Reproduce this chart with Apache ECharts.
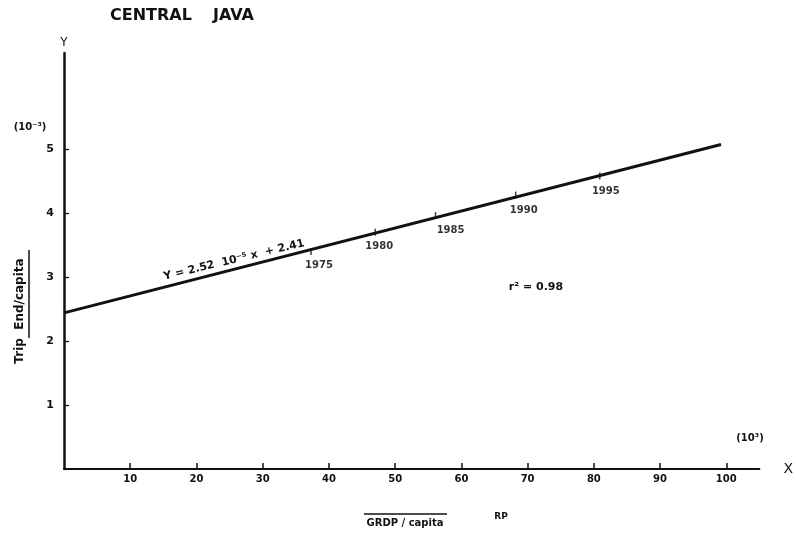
<!DOCTYPE html>
<html>
<head>
<meta charset="utf-8">
<script src="https://cdn.jsdelivr.net/npm/echarts@6/dist/echarts.min.js"></script>
<style>
  html, body { margin: 0; padding: 0; background: #fff; }
  #chart { width: 796px; height: 537px; }
</style>
</head>
<body>
<div id="chart"></div>
<script>
// Trip ends per capita against GRDP per capita, Central Java
const xTicks = [10, 20, 30, 40, 50, 60, 70, 80, 90, 100];
const yTicks = [1, 2, 3, 4, 5];

// fitted trend line (ends of the drawn segment)
const trendGrdp = [0, 99.2];
const trendTrip = [2.44, 5.07];

// yearly positions marked along the line
const years = ['1975', '1980', '1985', '1990', '1995'];
const yearGrdp = [37.3, 47.0, 56.1, 68.2, 80.9];
const yearTrip = [3.40, 3.70, 3.96, 4.28, 4.58];

// label offsets for the year marks (style only)
const yearLabelOffsets = [[8, 14], [4, 14], [15, 15], [8, 15], [6, 16]];

const FONT = 'DejaVu Sans';
const INK = '#111';

const chart = echarts.init(document.getElementById('chart'), null, { renderer: 'canvas' });

const option = {
  backgroundColor: '#fff',
  animation: false,
  grid: { left: 64, right: 34, top: 53, bottom: 68, containLabel: false },
  xAxis: {
    type: 'value',
    min: 0,
    max: 105,
    interval: 10,
    name: 'X',
    nameLocation: 'end',
    nameGap: 24,
    nameTextStyle: { fontFamily: FONT, fontSize: 14, color: INK, verticalAlign: 'middle', padding: [0, 0, 6, 0] },
    splitLine: { show: false },
    axisLine: { onZero: false, lineStyle: { color: INK, width: 2 } },
    axisTick: { inside: true, length: 6, customValues: xTicks, lineStyle: { color: INK, width: 1.5 } },
    axisLabel: {
      customValues: xTicks,
      margin: 5,
      fontFamily: FONT, fontSize: 10, fontWeight: 'bold', color: INK
    }
  },
  yAxis: {
    type: 'value',
    min: 0,
    max: 6.5,
    interval: 1,
    name: 'Y',
    nameLocation: 'end',
    nameGap: 4,
    nameTextStyle: { fontFamily: FONT, fontSize: 12, color: INK, align: 'center' },
    splitLine: { show: false },
    axisLine: { onZero: false, lineStyle: { color: INK, width: 2.5 } },
    axisTick: { inside: true, length: 5, customValues: yTicks, lineStyle: { color: INK, width: 1.2 } },
    axisLabel: {
      customValues: yTicks,
      margin: 10,
      fontFamily: FONT, fontSize: 11, fontWeight: 'bold', color: INK
    }
  },
  series: [
    {
      type: 'line',
      data: trendGrdp.map((x, i) => [x, trendTrip[i]]),
      symbol: 'none',
      lineStyle: { color: INK, width: 3 },
      z: 3
    },
    {
      type: 'scatter',
      data: yearGrdp.map((x, i) => ({
        value: [x, yearTrip[i]],
        name: years[i],
        label: { offset: yearLabelOffsets[i] }
      })),
      symbol: 'rect',
      symbolSize: [1.5, 7],
      itemStyle: { color: INK },
      label: {
        show: true,
        position: 'inside',
        formatter: p => p.name,
        fontFamily: FONT, fontSize: 10, fontWeight: 'bold', color: '#000',
        textBorderWidth: 0
      },
      z: 4
    }
  ],
  graphic: [
    {
      type: 'text', left: 110, top: 8,
      style: { text: 'CENTRAL', font: 'bold 16px "DejaVu Sans"', fill: INK }
    },
    {
      type: 'text', left: 213, top: 8,
      style: { text: 'JAVA', font: 'bold 16px "DejaVu Sans"', fill: INK }
    },
    {
      type: 'text', x: 30, y: 127,
      style: { text: '(10⁻³)', font: 'bold 10px "DejaVu Sans"', fill: INK, align: 'center', verticalAlign: 'middle' }
    },
    {
      type: 'text', x: 20, y: 311, rotation: Math.PI / 2,
      style: { text: 'Trip  End/capita', font: 'bold 12px "DejaVu Sans"', fill: INK, align: 'center', verticalAlign: 'middle' }
    },
    {
      type: 'line', shape: { x1: 29, y1: 250, x2: 29, y2: 338 },
      style: { stroke: INK, lineWidth: 1.5 }
    },
    {
      type: 'text', x: 234, y: 260, rotation: 0.237,
      style: { text: 'Y = 2.52  10⁻⁵ x  + 2.41', font: 'bold 11px "DejaVu Sans"', fill: INK, align: 'center', verticalAlign: 'middle' }
    },
    {
      type: 'text', x: 536, y: 287,
      style: { text: 'r² = 0.98', font: 'bold 11px "DejaVu Sans"', fill: INK, align: 'center', verticalAlign: 'middle' }
    },
    {
      type: 'text', x: 750, y: 438,
      style: { text: '(10³)', font: 'bold 10px "DejaVu Sans"', fill: INK, align: 'center', verticalAlign: 'middle' }
    },
    {
      type: 'line', shape: { x1: 364, y1: 514, x2: 447, y2: 514 },
      style: { stroke: INK, lineWidth: 1.5 }
    },
    {
      type: 'text', x: 405, y: 523,
      style: { text: 'GRDP / capita', font: 'bold 10px "DejaVu Sans"', fill: INK, align: 'center', verticalAlign: 'middle' }
    },
    {
      type: 'text', x: 501, y: 517,
      style: { text: 'RP', font: 'bold 9px "DejaVu Sans"', fill: INK, align: 'center', verticalAlign: 'middle' }
    }
  ]
};

chart.setOption(option);
</script>
</body>
</html>
